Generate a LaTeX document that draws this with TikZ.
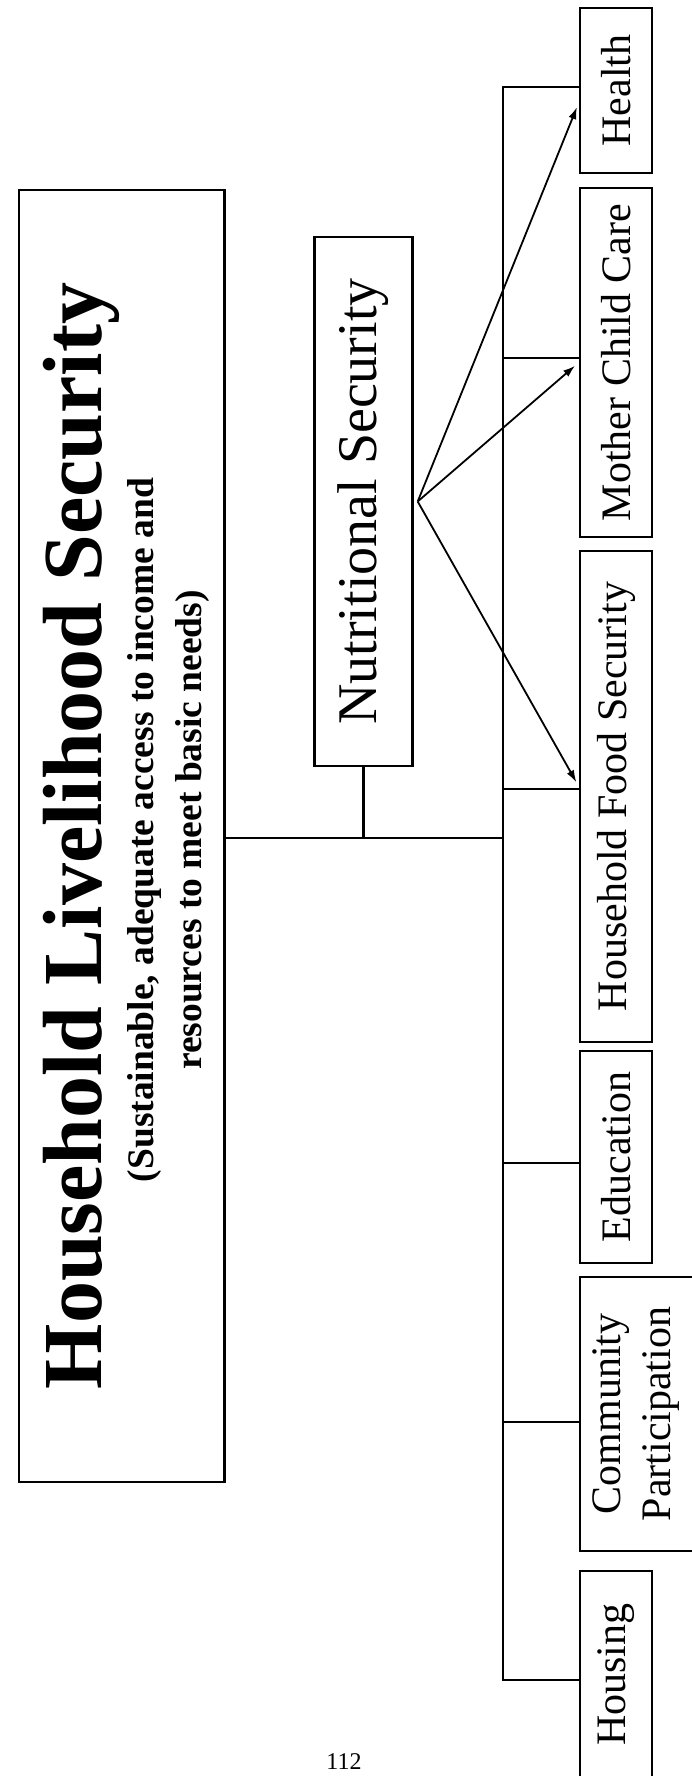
\documentclass[tikz,border=0pt]{standalone}
\usepackage{fontspec}
\setmainfont{Liberation Serif}
\usetikzlibrary{arrows.meta}

\tikzset{
  box/.style={draw, line width=2.4pt, rotate=90, inner sep=0pt,
    minimum height=72pt, align=center,
    font=\fontsize{42}{50}\selectfont},
  link/.style={line width=2.2pt},
  feed/.style={line width=1.8pt, shorten >=5pt,
    -{Latex[length=12pt,width=8pt]}},
}

\begin{document}
\begin{tikzpicture}[x=1pt,y=-1pt]
\useasboundingbox (0,0) rectangle (692,1776);
% household box, its title and note
\node[box, minimum width=1292pt, minimum height=205.5pt] (hls) at (121.75,836) {};
\node[rotate=90, anchor=base, font=\fontsize{84}{100}\selectfont\bfseries]
  (title) at (101,836) {Household Livelihood Security};
\node[rotate=90, inner sep=0pt, align=center,
  font=\fontsize{37.5}{48}\selectfont\bfseries] (note) at (168,830)
  {(Sustainable, adequate access to income and\\
   resources to meet basic needs)};
% nutrition
\node[box, minimum width=529pt, minimum height=98pt,
  font=\fontsize{56}{60}\selectfont] (nut) at (363.5,501.5) {Nutritional Security};
% right column
\node[box, minimum width=165pt] (health)  at (616,90.5)   {Health};
\node[box, minimum width=349pt] (mcc)     at (616,362.5)  {Mother Child Care};
\node[box, minimum width=491pt] (hfs)     at (616,796.5)  {Household Food Security};
\node[box, minimum width=212pt] (edu)     at (616,1157)   {Education};
\node[box, minimum width=274pt, minimum height=113pt]
                                (comm)    at (636.5,1414) {Community\\Participation};
\node[box, minimum width=207pt] (housing) at (616,1674.5) {Housing};
% bus
\coordinate (bus) at (503,838);
\draw[link] ([yshift=3.5pt]health.north) -- ([yshift=3.5pt]bus |- health.north) --
  ([yshift=-5.5pt]bus |- housing.north) -- ([yshift=-5.5pt]housing.north);
\foreach \b/\s in {mcc/4.5,hfs/7.5,edu/-6,comm/-8}
  \draw[link] ([yshift=\s pt]bus |- \b.north) -- ([yshift=\s pt]\b.north);
\draw[link] (hls.south |- bus) -- (bus);
\draw[link] (nut.west) -- (nut.west |- bus);
% arrows
\coordinate (fan) at ([xshift=4pt]nut.south);
\draw[feed] (fan) -- ([yshift=-12pt]health.north);
\draw[feed] (fan) -- (mcc.north);
\draw[feed] (fan) -- ([yshift=10pt]hfs.north);
\node[font=\fontsize{24}{28}\selectfont] (page) at (344,1762) {112};
\end{tikzpicture}
\end{document}
